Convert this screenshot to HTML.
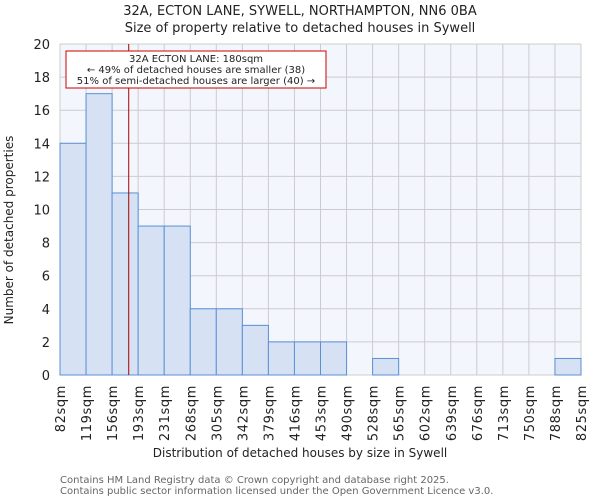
<!DOCTYPE html>
<html><head><meta charset="utf-8"><style>
body{margin:0;background:#fff;font-family:"DejaVu Sans","Liberation Sans",sans-serif;}
svg text{font-family:"DejaVu Sans","Liberation Sans",sans-serif;}
</style></head><body>
<svg id="chart" width="600" height="500" xmlns="http://www.w3.org/2000/svg">
<text x="300" y="15" text-anchor="middle" font-size="13" fill="#222">32A, ECTON LANE, SYWELL, NORTHAMPTON, NN6 0BA</text>
<text x="300" y="32" text-anchor="middle" font-size="13" fill="#222">Size of property relative to detached houses in Sywell</text>
<rect x="60" y="44" width="521" height="331" fill="#f3f6fd"/>
<g id="grid"></g>
<g id="bars"></g>
<g id="xt"></g>
<g id="yt"></g>
<line id="marker" y1="44" y2="375" stroke="#aa0000" stroke-width="1"/>
<rect x="66" y="51" width="260" height="37" fill="#fff" stroke="#cc0000" stroke-width="1"/>
<text x="196" y="62" text-anchor="middle" font-size="10" fill="#222">32A ECTON LANE: 180sqm</text>
<text x="196" y="73" text-anchor="middle" font-size="10" fill="#222">← 49% of detached houses are smaller (38)</text>
<text x="196" y="84" text-anchor="middle" font-size="10" fill="#222">51% of semi-detached houses are larger (40) →</text>
<text x="300" y="457" text-anchor="middle" font-size="12" fill="#222">Distribution of detached houses by size in Sywell</text>
<text transform="translate(13,230) rotate(-90)" text-anchor="middle" font-size="12" fill="#222">Number of detached properties</text>
<text x="60" y="483" font-size="10" fill="#666">Contains HM Land Registry data © Crown copyright and database right 2025.</text>
<text x="60" y="494" font-size="10" fill="#666">Contains public sector information licensed under the Open Government Licence v3.0.</text>
</svg>
<script>
const binLabels=["82sqm","119sqm","156sqm","193sqm","231sqm","268sqm","305sqm","342sqm","379sqm","416sqm","453sqm","490sqm","528sqm","565sqm","602sqm","639sqm","676sqm","713sqm","750sqm","788sqm","825sqm"];
const counts=[14,17,11,9,9,4,4,3,2,2,2,0,1,0,0,0,0,0,0,1];
const yTicks=[0,2,4,6,8,10,12,14,16,18,20];
const markerValue=180;
const xMin=82,xMax=825;
const X0=60,X1=581,Y0=375,Y1=44,YMAX=20;
const NS="http://www.w3.org/2000/svg";
const n=counts.length;
const bw=(X1-X0)/n;
const xi=i=>X0+i*bw;
const y=v=>Y0-(v/YMAX)*(Y0-Y1);
const xv=v=>X0+(v-xMin)/(xMax-xMin)*(X1-X0);
function mk(tag,attrs,parent){const e=document.createElementNS(NS,tag);for(const k in attrs)e.setAttribute(k,attrs[k]);parent.appendChild(e);return e;}
const grid=document.getElementById('grid');
yTicks.forEach(t=>{const l=mk('line',{x1:X0,x2:X1,y1:y(t),y2:y(t),stroke:'#cccccc','stroke-width':1},grid);

});
binLabels.forEach((b,i)=>{const l=mk('line',{x1:xi(i),x2:xi(i),y1:Y1,y2:Y0,stroke:'#cccccc','stroke-width':1},grid);

});
const bars=document.getElementById('bars');
counts.forEach((c,i)=>{if(c<=0)return;const r=mk('rect',{x:xi(i),y:y(c),width:bw,height:Y0-y(c),fill:'#d6e2f3',stroke:'#5b8fd6','stroke-width':1},bars);

});
const yt=document.getElementById('yt');
yTicks.forEach(t=>{const tx=mk('text',{x:50,y:y(t)+5,'text-anchor':'end','font-size':13,fill:'#222'},yt);tx.textContent=t;

});
const xt=document.getElementById('xt');
binLabels.forEach((b,i)=>{const px=xi(i)+5;const tx=mk('text',{transform:`translate(${px},385) rotate(-90)`,'text-anchor':'end','font-size':13,'letter-spacing':'0.6',fill:'#222'},xt);tx.textContent=b;

});
const m=document.getElementById('marker');m.setAttribute('x1',xv(markerValue));m.setAttribute('x2',xv(markerValue));
</script>
</body></html>
